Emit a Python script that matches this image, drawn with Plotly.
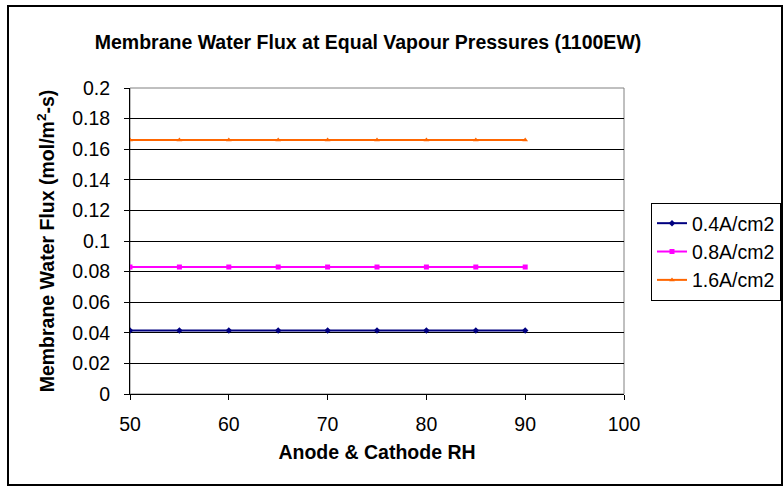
import plotly.graph_objects as go

rh = [50, 55, 60, 65, 70, 75, 80, 85, 90]
flux_04 = [0.0415] * 9
flux_08 = [0.083] * 9
flux_16 = [0.166] * 9
series_names = ["0.4A/cm2", "0.8A/cm2", "1.6A/cm2"]
series_colors = ["#000080", "#FF00FF", "#FF6600"]
series_symbols = ["diamond", "square", "triangle-up"]
series_values = [flux_04, flux_08, flux_16]

fig = go.Figure()
for name, vals, col, sym in zip(series_names, series_values, series_colors, series_symbols):
    fig.add_trace(go.Scatter(
        x=rh, y=vals, name=name, mode="lines+markers",
        line=dict(color=col, width=2),
        marker=dict(symbol=sym, size=5, color=col),
    ))

FONT = "Liberation Sans, Arial, sans-serif"
FS = 19.5
fig.update_layout(
    width=783, height=488,
    margin=dict(l=130, r=159, t=88, b=94, autoexpand=False),
    paper_bgcolor="white", plot_bgcolor="white",
    font=dict(family=FONT, size=FS, color="black"),
    showlegend=True,
    legend=dict(x=(651 - 130) / 494, y=(394 - 203) / 306, xref="paper", yref="paper",
                xanchor="left", yanchor="top",
                font=dict(size=FS), bordercolor="black", borderwidth=1,
                bgcolor="white", tracegroupgap=0, itemwidth=30),
    title=dict(text="<b>Membrane Water Flux at Equal Vapour Pressures (1100EW)</b>",
               x=0.47, xref="container", xanchor="center", y=1 - 42/488, yanchor="middle",
               font=dict(size=FS, family=FONT)),
    xaxis=dict(range=[50, 100], dtick=10, tick0=50, showgrid=False,
               showline=True, linecolor="black", linewidth=1,
               ticks="outside", ticklen=5, tickcolor="black",
               zeroline=False, mirror=False, ticklabelstandoff=8,
               title=dict(text="<b>Anode &amp; Cathode RH</b>", font=dict(size=FS), standoff=10)),
    yaxis=dict(range=[0, 0.2], dtick=0.02, showgrid=True, gridcolor="black", gridwidth=1,
               showline=True, linecolor="black", linewidth=1,
               ticks="outside", ticklen=5, tickcolor="black", zeroline=False,
               tickformat="~g", ticklabelstandoff=10,
               title=dict(text="<b>Membrane Water Flux (mol/m<sup>2</sup>-s)</b>", font=dict(size=FS), standoff=12)),
)
# plot area top/right gray border and outer chart border
fig.add_shape(type="rect", xref="paper", yref="paper", x0=0, x1=1, y0=0, y1=1,
              line=dict(color="#808080", width=1), layer="below")
fig.add_shape(type="rect", xref="paper", yref="paper",
              x0=(8 - 130) / 494, x1=(782 - 130) / 494,
              y0=-(485 - 394) / 306, y1=(394 - 6) / 306,
              line=dict(color="black", width=2))
fig.write_html("out.html")
